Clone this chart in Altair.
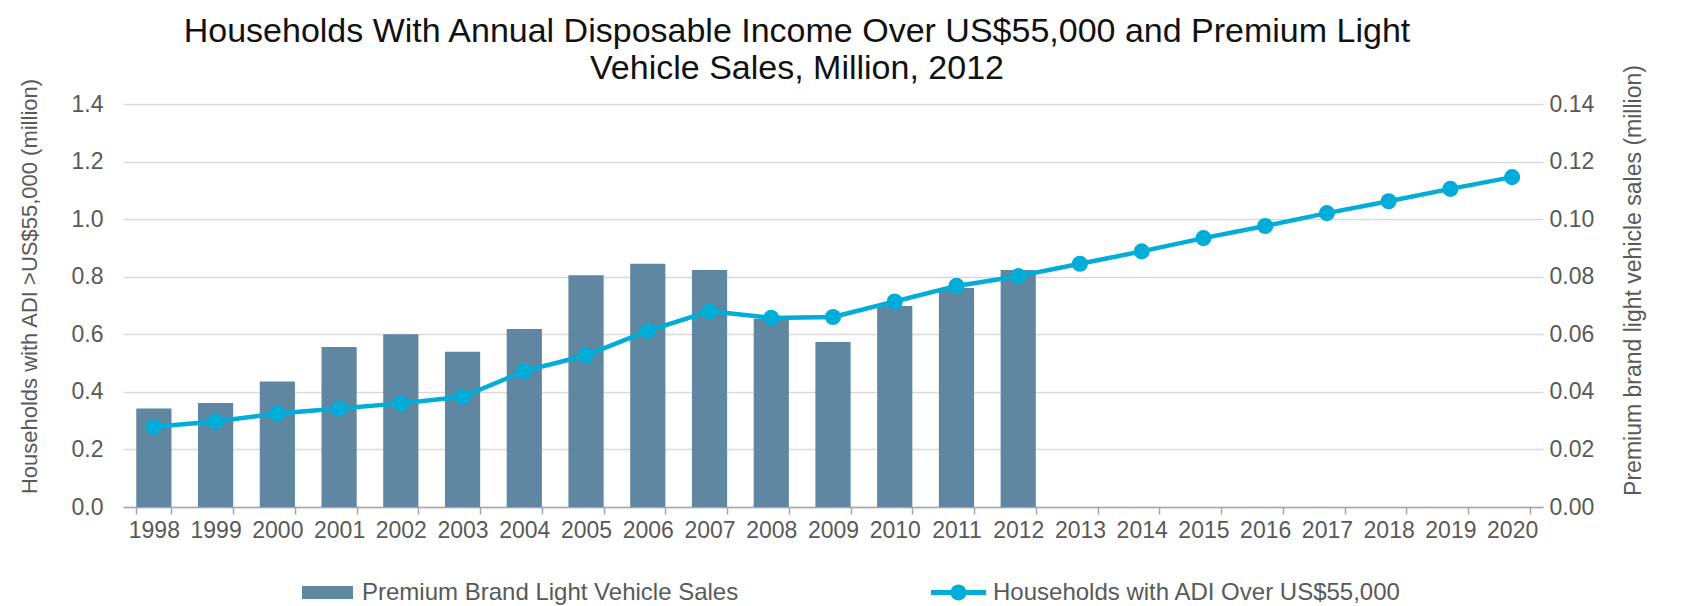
import altair as alt
import pandas as pd

# ---- data ----
years = [str(y) for y in range(1998, 2021)]
households = [0.279, 0.297, 0.325, 0.342, 0.360, 0.383, 0.472, 0.527, 0.612, 0.680,
              0.657, 0.660, 0.714, 0.768, 0.802, 0.845, 0.888, 0.934, 0.976, 1.021,
              1.062, 1.105, 1.146]
premium = [0.0342, 0.0361, 0.0436, 0.0556, 0.0600, 0.0539, 0.0618, 0.0805, 0.0845,
           0.0823, 0.0654, 0.0573, 0.0698, 0.0761, 0.0823] + [None] * 8
left_ticks = [0.0, 0.2, 0.4, 0.6, 0.8, 1.0, 1.2, 1.4]
right_ticks = [0.0, 0.02, 0.04, 0.06, 0.08, 0.10, 0.12, 0.14]
bar_name = "Premium Brand Light Vehicle Sales"
line_name = "Households with ADI Over US$55,000"
title_lines = ["Households With Annual Disposable Income Over US$55,000 and Premium Light",
               "Vehicle Sales, Million, 2012"]

BAR = "#5F87A1"
LINE = "#00ADD8"
TXT = "#595959"
FONT = "Liberation Sans"

df = pd.DataFrame({"year": years, "households": households, "premium": premium})
df["s1"] = bar_name
df["s2"] = line_name

base = alt.Chart(df)

x = alt.X(
    "year:N", sort=years,
    scale=alt.Scale(paddingInner=0.43, paddingOuter=0.215),
    axis=alt.Axis(title=None, labelAngle=0, labelFontSize=23, labelColor=TXT, labelPadding=5,
                  domainColor="#A6A6A6", domainWidth=1.5, tickColor="#A6A6A6", tickWidth=1.5,
                  tickSize=7, tickBand="extent", grid=False),
)

bars = base.transform_filter("isValid(datum.premium)").mark_bar(color=BAR).encode(
    x=x,
    y=alt.Y("premium:Q", scale=alt.Scale(domain=[0, 0.14], nice=False),
            axis=alt.Axis(orient="right", values=right_ticks, format=".2f",
                          title="Premium brand light vehicle sales (million)",
                          grid=False, domain=False, ticks=False,
                          labelFontSize=23, labelColor=TXT, labelPadding=6,
                          titleFontSize=23, titleColor=TXT, titleFontWeight="normal",
                          titleAngle=270, titlePadding=52, titleY=176)),
    color=alt.Color("s1:N", scale=alt.Scale(domain=[bar_name], range=[BAR]),
                    legend=alt.Legend(title=None, orient="none", legendX=179, legendY=463,
                                      symbolType="M-1,-0.255L1,-0.255L1,0.255L-1,0.255Z",
                                      symbolSize=2601, symbolStrokeWidth=0,
                                      labelFontSize=24, labelColor=TXT, labelOffset=9,
                                      labelLimit=800, padding=0)),
)

y_left = alt.Y("households:Q", scale=alt.Scale(domain=[0, 1.4], nice=False),
               axis=alt.Axis(orient="left", values=left_ticks, format=".1f",
                             title="Households with ADI >US$55,000 (million)",
                             grid=True, gridColor="#D9D9D9", gridWidth=1.5,
                             domain=False, ticks=False,
                             labelFontSize=23, labelColor=TXT, labelPadding=20,
                             titleFontSize=22, titleColor=TXT, titleFontWeight="normal",
                             titlePadding=30, titleY=182))

line = base.mark_line(color=LINE, strokeWidth=4.5).encode(x=x, y=y_left)

line_symbol = ("M-1,-0.09L-0.2,-0.09L-0.2,0.09L-1,0.09Z "
               "M0.2,-0.09L1,-0.09L1,0.09L0.2,0.09Z "
               "M0.29,0A0.29,0.29 0 1,1 -0.29,0A0.29,0.29 0 1,1 0.29,0Z")

points = base.mark_point(filled=True, size=260, opacity=1).encode(
    x=x, y=y_left,
    color=alt.Color("s2:N", scale=alt.Scale(domain=[line_name], range=[LINE]),
                    legend=alt.Legend(title=None, orient="none", legendX=808, legendY=461,
                                      symbolType=line_symbol, symbolSize=3025,
                                      symbolStrokeWidth=0,
                                      labelFontSize=24, labelColor=TXT, labelOffset=7,
                                      labelLimit=800, padding=0)),
)

chart = alt.layer(bars, alt.layer(line, points)).resolve_scale(
    y="independent", color="independent"
).properties(
    width=1420, height=403,
    autosize=alt.AutoSizeParams(type="none"),
    padding={"left": 115, "top": 96, "right": 140, "bottom": 99},
    title=alt.TitleParams(text=title_lines, fontSize=34, font=FONT, color="#111111",
                          fontWeight="normal", anchor="middle", frame="group",
                          dx=-36, offset=-21, lineHeight=37),
).configure_view(stroke=None).configure_axis(
    labelFont=FONT, titleFont=FONT
).configure_legend(labelFont=FONT)

chart.save("out.html", embed_options={"renderer": "svg", "actions": False})
